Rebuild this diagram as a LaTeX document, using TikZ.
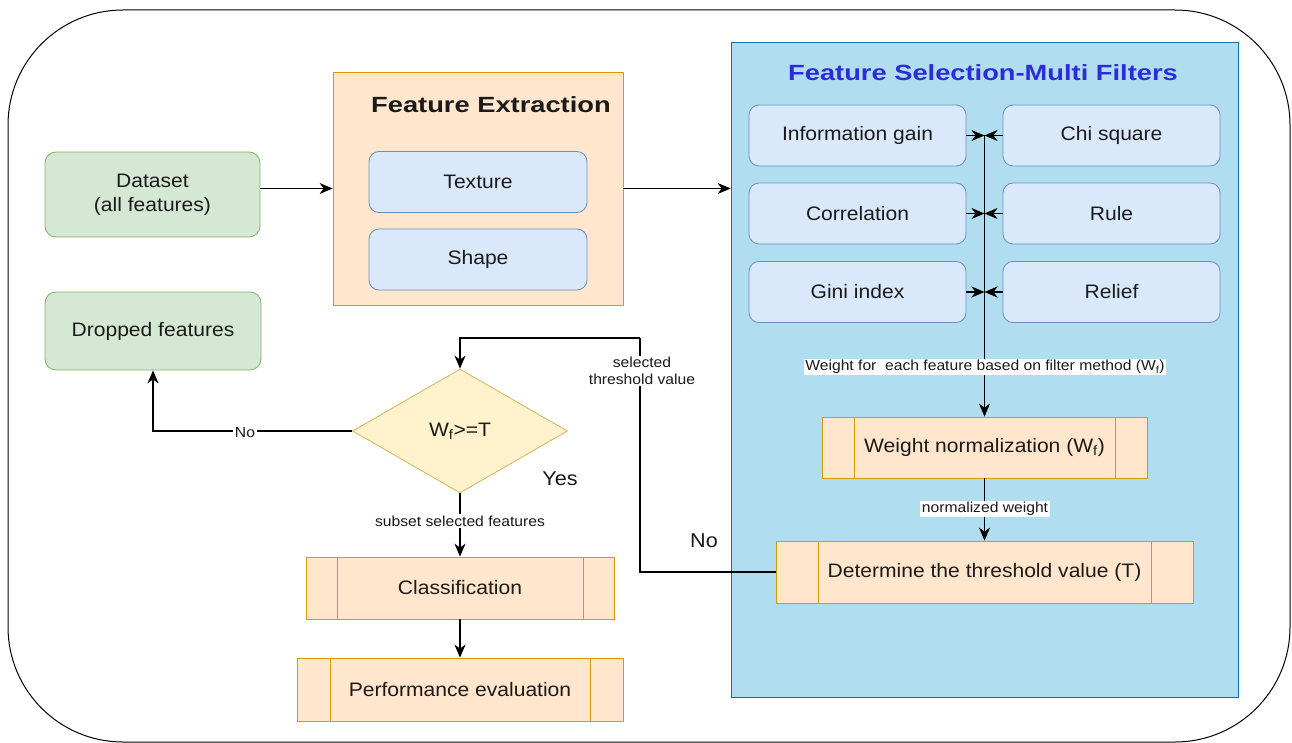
\documentclass[tikz,border=0pt]{standalone}
\usepackage{fontspec}
\setmainfont{Liberation Sans}[FakeStretch=1.08]
\newfontfamily\titlefont{Liberation Sans}[FakeStretch=1.24]
\usetikzlibrary{shapes.geometric,arrows.meta,calc}
\definecolor{gfill}{HTML}{D5E8D4}
\definecolor{gline}{HTML}{82B366}
\definecolor{bfill}{HTML}{DAE8FC}
\definecolor{bline}{HTML}{6C8EBF}
\definecolor{pfill}{HTML}{FFE6CC}
\definecolor{pline}{HTML}{D79B00}
\definecolor{cfill}{HTML}{B1DDF0}
\definecolor{cline}{HTML}{10739E}
\definecolor{yfill}{HTML}{FFF2CC}
\definecolor{yline}{HTML}{D6B656}
\definecolor{ttl}{RGB}{45,45,215}
\definecolor{txt}{HTML}{1A1A1A}
\begin{document}
\begin{tikzpicture}[x=1pt,y=-1pt,
  base/.style={draw, line width=0.8pt, align=center, inner sep=0pt, text=txt,
    font=\fontsize{19.5}{24}\selectfont},
  greenbox/.style={base, rounded corners=11pt, fill=gfill, draw=gline},
  bluebox/.style={base, rounded corners=10pt, fill=bfill, draw=bline},
  container/.style={draw, line width=0.8pt, inner sep=0pt},
  procbox/.style={base, fill=pfill, draw=pline,
    path picture={\draw[pline, line width=0.8pt]
      ($(path picture bounding box.south west)+(#1,0)$) -- ($(path picture bounding box.north west)+(#1,0)$)
      ($(path picture bounding box.south east)-(#1,0)$) -- ($(path picture bounding box.north east)-(#1,0)$);}},
  titletext/.style={font=\titlefont\bfseries\fontsize{22}{26}\selectfont, inner sep=0pt},
  lbl/.style={fill=white, inner sep=1.5pt, text=txt, align=center,
    font=\fontsize{14.5}{19}\selectfont},
  bigtext/.style={inner sep=0pt, text=txt, font=\fontsize{20}{24}\selectfont},
  arr/.style={-{Stealth[length=13pt,width=11pt,inset=4pt]}, line width=1.1pt},
  ln/.style={line width=1.1pt}
]
\useasboundingbox (0,0) rectangle (1292,743);
% outer frame
\draw[line width=1pt, rounded corners=115pt] (8,10) rectangle (1290,742);

% containers
\node[container, fill=pfill, draw=pline, minimum width=290pt, minimum height=233pt] (fe) at (478,188.5) {};
\node[titletext, text=txt] (fet) at (491,105) {Feature Extraction};
\node[container, fill=cfill, draw=cline, minimum width=507pt, minimum height=655pt] (fs) at (984.5,369.5) {};
\node[titletext, text=ttl] (fst) at (983,73) {Feature Selection-Multi Filters};

% left boxes
\node[greenbox, minimum width=215pt, minimum height=85pt] (ds) at (152.5,194.5) {Dataset\\(all features)};
\node[greenbox, minimum width=216pt, minimum height=78pt] (drop) at (153,331) {Dropped features};

% feature extraction
\node[bluebox, minimum width=218pt, minimum height=61pt] (tex) at (478,182) {Texture};
\node[bluebox, minimum width=218pt, minimum height=61pt] (shp) at (478,259.5) {Shape};

% filters
\node[bluebox, minimum width=217pt, minimum height=61pt] (ig) at (857.5,135.5) {Information gain};
\node[bluebox, minimum width=217pt, minimum height=61pt] (cor) at (857.5,213.5) {Correlation};
\node[bluebox, minimum width=217pt, minimum height=61pt] (gini) at (857.5,292) {Gini index};
\node[bluebox, minimum width=217pt, minimum height=61pt] (chi) at (1111.5,135.5) {Chi square};
\node[bluebox, minimum width=217pt, minimum height=61pt] (rule) at (1111.5,213.5) {Rule};
\node[bluebox, minimum width=217pt, minimum height=61pt] (rel) at (1111.5,292) {Relief};

% process boxes
\node[procbox=32pt, minimum width=325pt, minimum height=61pt] (wn) at (984.5,447.5) {Weight normalization (W\textsubscript{f})};
\node[procbox=42pt, minimum width=417pt, minimum height=62pt] (dt) at (984.5,572) {Determine the threshold value (T)};
\node[procbox=31pt, minimum width=308pt, minimum height=62pt] (cl) at (460,588) {Classification};
\node[procbox=33pt, minimum width=326pt, minimum height=63pt] (pe) at (460,689.5) {Performance evaluation};

% decision
\node[base, shape=diamond, fill=yfill, draw=yline, minimum width=215pt, minimum height=124pt] (dia) at (460,431) {W\textsubscript{f}>=T};

% junction coordinates
\coordinate (j1) at (984.5,135.5);
\coordinate (j2) at (984.5,213.5);
\coordinate (j3) at (984.5,292);
\coordinate (c1) at (640,338);

% connectors
\draw[arr] (ds.east |- fe.west) -- (fe.west);
\draw[arr] (fe.east) -- (fe.east -| fs.west);
\draw[arr] (ig.east) -- (j1);
\draw[arr] (chi.west) -- (j1);
\draw[arr] (cor.east) -- (j2);
\draw[arr] (rule.west) -- (j2);
\draw[arr] (gini.east) -- (j3);
\draw[arr] (rel.west) -- (j3);
\draw[arr] (j1) -- (wn.north);
\draw[arr] (wn.south) -- (wn.south |- dt.north);
\draw[ln] (dt.west) -| (c1);
\draw[arr] (c1) -| (dia.north);
\draw[arr] (dia.west) -| (drop.south);
\draw[arr] (dia.south) -- (cl.north);
\draw[arr] (cl.south) -- (pe.north);

% labels
\node[lbl] (l1) at (985,367) {Weight for\ \ each feature based on filter method (W\textsubscript{f})};
\node[lbl] (l2) at (985,509) {normalized weight};
\node[lbl, font=\fontsize{14.5}{17}\selectfont] (l3) at (642,371) {selected\\threshold value};
\node[lbl] (l4) at (245,433) {No};
\node[lbl] (l5) at (460,521) {subset selected features};
\node[bigtext] (yes) at (560,479) {Yes};
\node[bigtext] (no2) at (704,541) {No};
\end{tikzpicture}
\end{document}
